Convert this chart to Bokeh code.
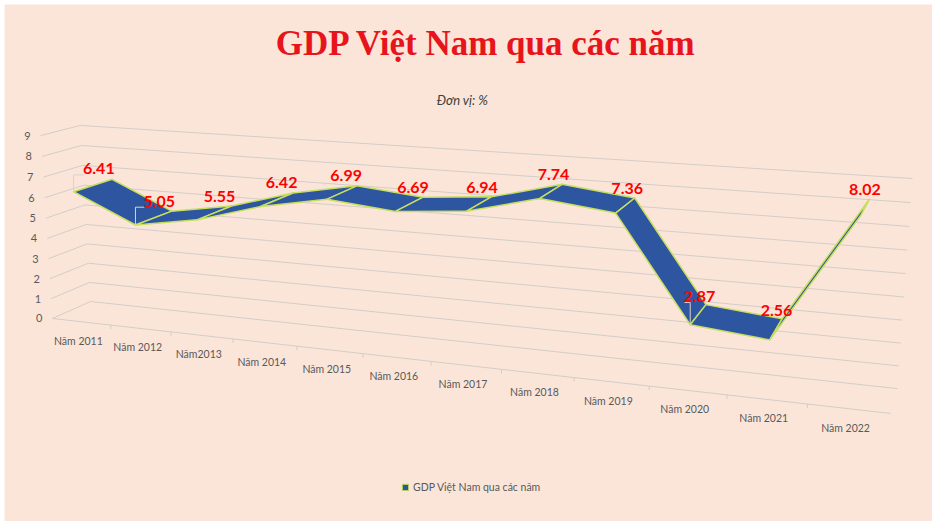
import numpy as np
from bokeh.plotting import figure
from bokeh.models import ColumnDataSource, Range1d, Legend, LegendItem
from bokeh.core.properties import value
from bokeh.embed import file_html
from bokeh.resources import INLINE

# ---- data -------------------------------------------------------------
years = ["Năm 2011", "Năm 2012", "Năm2013", "Năm 2014", "Năm 2015", "Năm 2016",
         "Năm 2017", "Năm 2018", "Năm 2019", "Năm 2020", "Năm 2021", "Năm 2022"]
gdp = [6.41, 5.05, 5.55, 6.42, 6.99, 6.69, 6.94, 7.74, 7.36, 2.87, 2.56, 8.02]
y_ticks = list(range(0, 10))

TITLE = "GDP Việt Nam qua các năm"
SUBTITLE = "Đơn vị: %"
SERIES = "GDP Việt Nam qua các năm"

COLORS = {
    "page": "#ffffff",
    "bg": "#fbe5d9",
    "grid": "#d3cdc8",
    "leader": "#d8d2cd",
    "text": "#595959",
    "title": "#e8141c",
    "label": "#ff0000",
    "top": "#2e56a0",
    "under": "#5f803a",
    "edge": "#c6de5c",
}

W, H = 932, 521
FONT = "Lato"

# 3D box (category, value, depth) -> page pixels; solved as a pinhole camera
N = len(years)
VMAX = y_ticks[-1]
BOX = [
    ((0, 0, 0), (52, 318)),
    ((0, 0, 1), (90, 301)),
    ((0, VMAX, 1), (80, 125)),
    ((0, VMAX, 0), (40, 135)),
    ((N, 0, 0), (890, 413)),
    ((N, 0, 1), (897, 388)),
    ((N, VMAX, 1), (912, 178)),
]
Z_FRONT, Z_BACK, Z_LABEL = 0.0, 1.0, 0.7
LEADERS = [0, 1, 9]  # labels drawn with a leader line


def _camera(pairs):
    rows = []
    for (X, Y, Z), (u, v) in pairs:
        h = [X, Y, Z, 1.0]
        u, v = (u - 480) / 500, (v - 270) / 500
        rows.append(h + [0, 0, 0, 0] + [-u * c for c in h])
        rows.append([0, 0, 0, 0] + h + [-v * c for c in h])
    _, _, vt = np.linalg.svd(np.array(rows, dtype=float))
    return vt[-1].reshape(3, 4)


CAM = _camera(BOX)


def project(X, Y, Z):
    X, Y, Z = np.broadcast_arrays(np.asarray(X, float), np.asarray(Y, float), np.asarray(Z, float))
    q = CAM @ np.vstack([X.ravel(), Y.ravel(), Z.ravel(), np.ones(X.size)])
    return q[0] / q[2] * 500 + 480, q[1] / q[2] * 500 + 270


p = figure(width=W, height=H, output_backend="svg", toolbar_location=None,
           x_range=Range1d(0, W), y_range=Range1d(H, 0),
           min_border=0, background_fill_color=COLORS["page"],
           border_fill_color=COLORS["page"], outline_line_color=None)
p.axis.visible = False
p.grid.visible = False

# chart area panel
p.quad(left=4, right=W, top=4, bottom=H, fill_color=COLORS["bg"], line_color=None)

# ---- walls: value gridlines on left wall + back wall, floor front edge ----
gx, gy = [], []
for t in y_ticks:
    xs, ys = project([0, 0, N], t, [0, 1, 1])
    gx.append(list(xs))
    gy.append(list(ys))
xs, ys = project([0, N], 0, 0)
gx.append(list(xs))
gy.append(list(ys))
p.multi_line(gx, gy, line_color=COLORS["grid"], line_width=1)

# small ticks on the front floor edge between categories
bx, by = project(np.arange(1, N), 0, 0)
p.segment(bx, by, bx, by + 4, line_color=COLORS["grid"], line_width=1)

# value labels
tx, ty = project(0, y_ticks, 0)
p.text(tx - 10, ty, text=[str(t) for t in y_ticks], text_align="right",
       text_baseline="middle", text_font=value(FONT), text_font_size="11px",
       text_color=COLORS["text"])

# category labels
cx, cy = project(np.arange(N) + 0.5, 0, 0)
p.text(cx - 3, cy + 19, text=years, text_align="center", text_baseline="middle",
       text_font=value(FONT), text_font_size="10.5px", text_color=COLORS["text"])

# ---- ribbon ----------------------------------------------------------------
fx, fy = project(np.arange(N) + 0.5, gdp, Z_FRONT)
kx, ky = project(np.arange(N) + 0.5, gdp, Z_BACK)
qxs, qys, fills = [], [], []
for i in range(N - 1):
    qx = [fx[i], fx[i + 1], kx[i + 1], kx[i]]
    qy = [fy[i], fy[i + 1], ky[i + 1], ky[i]]
    area = sum(qx[k] * qy[(k + 1) % 4] - qx[(k + 1) % 4] * qy[k] for k in range(4))
    qxs.append(qx)
    qys.append(qy)
    fills.append(COLORS["top"] if area < 0 else COLORS["under"])
p.patches(qxs, qys, fill_color=fills, line_color=COLORS["edge"],
          line_width=1.5, line_join="round")

# data labels
lx, ly = project(np.arange(N) + 0.5, gdp, Z_LABEL)
lx, ly = lx - 2, ly - 14

# leader lines from the ribbon up to the moved labels
ldx = [[fx[i], fx[i], lx[i] - 15] for i in LEADERS]
ldy = [[fy[i], ly[i] + 6, ly[i] + 6] for i in LEADERS]
p.multi_line(ldx, ldy, line_color=COLORS["leader"], line_width=1)

lab = ColumnDataSource(dict(x=lx, y=ly, t=[f"{v:.2f}" for v in gdp]))
p.text("x", "y", text="t", source=lab, text_align="center", text_baseline="middle",
       text_font=value(FONT), text_font_style="bold", text_font_size="16px",
       text_color=COLORS["label"])

# ---- titles ------------------------------------------------------------------
p.text([486], [43], text=[TITLE], text_align="center", text_baseline="middle",
       text_font=value("Liberation Serif"), text_font_style="bold",
       text_font_size="35px", text_color=COLORS["title"])
p.text([462], [99], text=[SUBTITLE], text_align="center", text_baseline="middle",
       text_font=value(FONT), text_font_style="italic", text_font_size="13px",
       text_color="#404040")

# legend swatch: a proxy outside the visible range, styled like the ribbon top
swatch = p.quad(left=[-20], right=[-10], top=[-20], bottom=[-10],
                fill_color=COLORS["top"], line_color=COLORS["edge"], line_width=1)
legend = Legend(items=[LegendItem(label=SERIES, renderers=[swatch])],
                location=(401, 28), orientation="horizontal",
                glyph_width=8, glyph_height=8, label_standoff=4,
                padding=0, margin=0, border_line_color=None,
                background_fill_alpha=0, label_text_font=FONT,
                label_text_font_size="10.5px", label_text_color=COLORS["text"])
p.add_layout(legend)

open("out.html", "w").write(file_html(p, INLINE))
